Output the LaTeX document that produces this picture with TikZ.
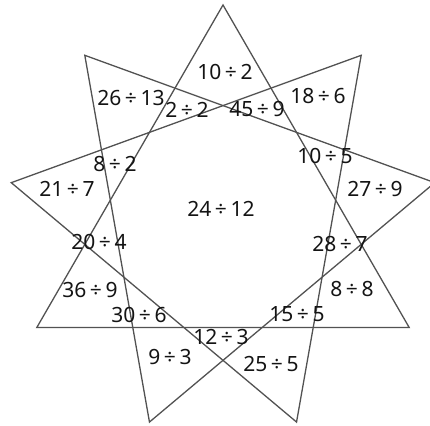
\documentclass[tikz,border=0pt]{standalone}
\usepackage{fontspec}
\setmainfont{Noto Sans}
\begin{document}
\begin{tikzpicture}[x=1pt,y=-1pt,
  tri/.style={draw=black!68, line width=1.3pt, line join=miter},
  lab/.style={font=\fontsize{21}{21}\selectfont, inner sep=0pt, text=black!92}]
\useasboundingbox (0,0) rectangle (430,425);
\clip (0,0) rectangle (430,425);
\foreach \k in {0,...,8}
  \coordinate (v\k) at ({223+215*cos(90+40*\k)}, {220-215*sin(90+40*\k)});
\draw[tri] (v0) -- (v3) -- (v6) -- cycle;
\draw[tri] (v1) -- (v4) -- (v7) -- cycle;
\draw[tri] (v2) -- (v5) -- (v8) -- cycle;
\node[lab] (a1) at (225,72) {10\,÷\,2};
\node[lab] (a2) at (131,98) {26\,÷\,13};
\node[lab] (a3) at (187,110) {2\,÷\,2};
\node[lab] (a4) at (257,109) {45\,÷\,9};
\node[lab] (a5) at (318,96) {18\,÷\,6};
\node[lab] (a6) at (325,156) {10\,÷\,5};
\node[lab] (a7) at (375,189) {27\,÷\,9};
\node[lab] (a8) at (115,164) {8\,÷\,2};
\node[lab] (a9) at (67,189) {21\,÷\,7};
\node[lab] (a10) at (221,209) {24\,÷\,12};
\node[lab] (a11) at (99,242) {20\,÷\,4};
\node[lab] (a12) at (90,290) {36\,÷\,9};
\node[lab] (a13) at (139,315) {30\,÷\,6};
\node[lab] (a14) at (221,337) {12\,÷\,3};
\node[lab] (a15) at (170,357) {9\,÷\,3};
\node[lab] (a16) at (340,244) {28\,÷\,7};
\node[lab] (a17) at (352,289) {8\,÷\,8};
\node[lab] (a18) at (297,314) {15\,÷\,5};
\node[lab] (a19) at (271,364) {25\,÷\,5};
\end{tikzpicture}
\end{document}
